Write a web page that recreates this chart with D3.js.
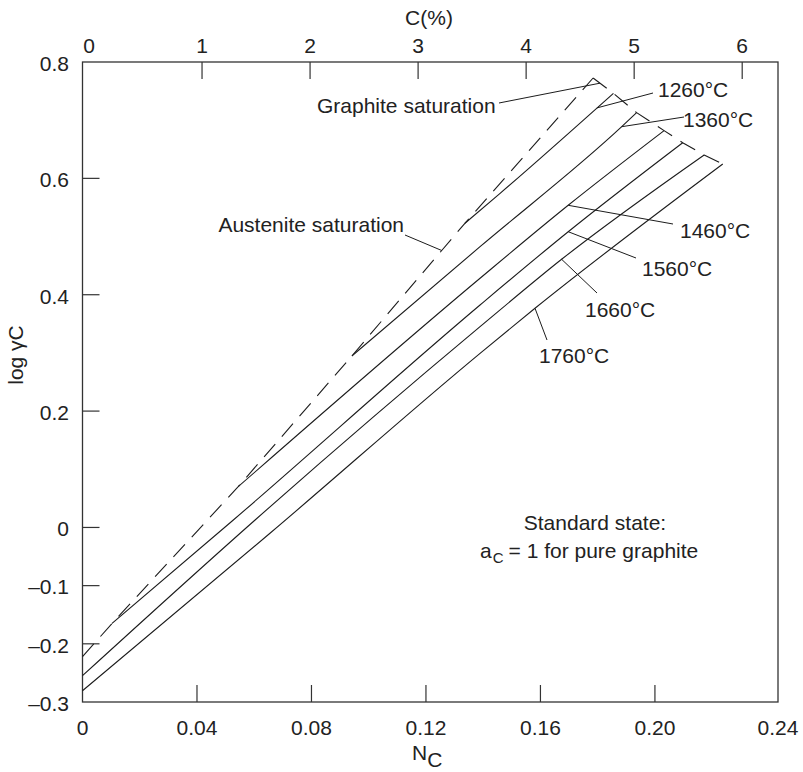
<!DOCTYPE html>
<html><head><meta charset="utf-8">
<script src="https://cdn.jsdelivr.net/npm/d3@7"></script>
<style>
body{margin:0;background:#fff}
svg{display:block}
text{font-family:"Liberation Sans",Arial,Helvetica,sans-serif;fill:#222;font-size:21px}
</style>
</head><body>
<svg id="c" width="803" height="772"></svg>
<script>
// ---------------- data ----------------
const temps = ["1260°C", "1360°C", "1460°C", "1560°C", "1660°C", "1760°C"];
const nc1260 = [0.1336, 0.1459, 0.1855];
const lg1260 = [0.5228, 0.5743, 0.7462];
const nc1360 = [0.0941, 0.1389, 0.1884, 0.1936];
const lg1360 = [0.2947, 0.4826, 0.6888, 0.7129];
const nc1460 = [0.0544, 0.1389, 0.1697, 0.2032];
const lg1460 = [0.0701, 0.4283, 0.5537, 0.6820];
const nc1560 = [0.0103, 0.0527, 0.1389, 0.1697, 0.2097];
const lg1560 = [-0.1651, 0.0128, 0.3824, 0.5083, 0.6613];
const nc1660 = [0, 0.0603, 0.1389, 0.1674, 0.2172];
const lg1660 = [-0.2548, 0.0128, 0.3451, 0.4609, 0.6402];
const nc1760 = [0, 0.0655, 0.1389, 0.1581, 0.2237];
const lg1760 = [-0.2806, -0.0100, 0.2993, 0.3767, 0.6247];
const ncAustenite = [0, 0.0103, 0.0544, 0.0941, 0.1336, 0.1784];
const lgAustenite = [-0.2221, -0.1651, 0.0701, 0.2947, 0.5228, 0.7725];
const ncGraphite = [0.1784, 0.1855, 0.1936, 0.2032, 0.2097, 0.2172, 0.2237];
const lgGraphite = [0.7725, 0.7462, 0.7129, 0.6820, 0.6613, 0.6402, 0.6247];
// where each temperature label's leader touches its curve (N_C)
const tempLeaderNC = [0.1797, 0.1884, 0.1697, 0.1697, 0.1674, 0.1581];
const graphiteLeaderNC = 0.1808;
const austeniteLeaderNC = 0.1255;

// ticks
const xTickValues = [0, 0.04, 0.08, 0.12, 0.16, 0.20, 0.24];
const xTickLabels = ["0", "0.04", "0.08", "0.12", "0.16", "0.20", "0.24"];
const yTickValues = [0.8, 0.6, 0.4, 0.2, 0, -0.1, -0.2, -0.3];
const yTickLabels = ["0.8", "0.6", "0.4", "0.2", "0", "–0.1", "–0.2", "–0.3"];
const cTickValues = [0, 1, 2, 3, 4, 5, 6];
const cTickLabels = ["0", "1", "2", "3", "4", "5", "6"];

// ---------------- layout ----------------
const NC_FRAME_MAX = 0.243;
const x = d3.scaleLinear().domain([0, NC_FRAME_MAX]).range([82.5, 778]);
const y = d3.scaleLinear().domain([-0.3, 0.8]).range([702, 62]);
const cScale = d3.scaleLinear().domain([0, 6]).range([94, 742.2]);
const TICK = 17;

const svg = d3.select("#c");
const ink = "#1c1c1c";

// frame
svg.append("rect")
  .attr("x", x(0)).attr("y", y(0.8))
  .attr("width", x(NC_FRAME_MAX) - x(0)).attr("height", y(-0.3) - y(0.8))
  .attr("fill", "none").attr("stroke", "#333").attr("stroke-width", 1.3);

// bottom axis ticks + labels
const xt = svg.append("g");
xt.selectAll("line").data(xTickValues.filter(v => v > 0 && v < 0.23)).join("line")
  .attr("x1", d => x(d)).attr("x2", d => x(d))
  .attr("y1", y(-0.3)).attr("y2", y(-0.3) - TICK)
  .attr("stroke", "#333").attr("stroke-width", 1.2);
xt.selectAll("text").data(xTickValues).join("text")
  .attr("x", (d, i) => i === xTickValues.length - 1 ? x(NC_FRAME_MAX) : x(d))
  .attr("y", 735).attr("text-anchor", "middle")
  .text((d, i) => xTickLabels[i]);

// top axis (C %)
const ct = svg.append("g");
ct.selectAll("line").data(cTickValues.filter(v => v > 0)).join("line")
  .attr("x1", d => cScale(d)).attr("x2", d => cScale(d))
  .attr("y1", y(0.8)).attr("y2", y(0.8) + TICK)
  .attr("stroke", "#333").attr("stroke-width", 1.2);
ct.selectAll("text").data(cTickValues).join("text")
  .attr("x", d => cScale(d) - (d === 0 ? 5 : 0)).attr("y", 53).attr("text-anchor", "middle")
  .text((d, i) => cTickLabels[i]);

// left axis
const yt = svg.append("g");
yt.selectAll("line").data(yTickValues.filter(v => v < 0.75 && v > -0.25)).join("line")
  .attr("x1", x(0)).attr("x2", x(0) + TICK)
  .attr("y1", d => y(d)).attr("y2", d => y(d))
  .attr("stroke", "#333").attr("stroke-width", 1.2);
yt.selectAll("text").data(yTickValues).join("text")
  .attr("x", 69).attr("y", d => y(d)).attr("dy", "0.42em").attr("text-anchor", "end")
  .text((d, i) => yTickLabels[i]);

// axis titles
svg.append("text").attr("x", 429).attr("y", 25).attr("text-anchor", "middle").text("C(%)");
const nt = svg.append("text").attr("x", 412).attr("y", 760);
nt.append("tspan").text("N");
nt.append("tspan").attr("dy", 7).text("C");
svg.append("text").attr("transform", "translate(23,355) rotate(-90)")
  .attr("text-anchor", "middle").text("log γC");

// ---------------- curves ----------------
const line = d3.line().x(d => x(d[0])).y(d => y(d[1]));
const smooth = d3.line().x(d => x(d[0])).y(d => y(d[1])).curve(d3.curveMonotoneX);
const zip = (a, b) => a.map((v, i) => [v, b[i]]);

const curves = [
  [nc1260, lg1260], [nc1360, lg1360], [nc1460, lg1460],
  [nc1560, lg1560], [nc1660, lg1660], [nc1760, lg1760]
];
svg.append("g").selectAll("path").data(curves).join("path")
  .attr("d", d => smooth(zip(d[0], d[1])))
  .attr("fill", "none").attr("stroke", ink).attr("stroke-width", 1.1);

svg.append("path").attr("d", line(zip(ncAustenite, lgAustenite)))
  .attr("fill", "none").attr("stroke", ink).attr("stroke-width", 1.1)
  .attr("stroke-dasharray", "17,10");
svg.append("path").attr("d", line(zip(ncGraphite, lgGraphite)))
  .attr("fill", "none").attr("stroke", ink).attr("stroke-width", 1.1)
  .attr("stroke-dasharray", "17,10");

// ---------------- labels & leaders ----------------
const interp = (xs, ys) => d3.scaleLinear().domain(xs).range(ys);
const tempLabelPos = [
  {tx: 658, ty: 97, lx: 653, ly: 93},
  {tx: 683, ty: 127, lx: 684, ly: 117},
  {tx: 680, ty: 238, lx: 673, ly: 224},
  {tx: 642, ty: 276, lx: 636, ly: 258},
  {tx: 585, ty: 317, lx: 597, ly: 293},
  {tx: 539, ty: 363, lx: 547, ly: 340}
];
const ann = svg.append("g");
curves.forEach((c, i) => {
  const nc = tempLeaderNC[i];
  const lg = interp(c[0], c[1])(nc);
  const p = tempLabelPos[i];
  ann.append("line").attr("x1", x(nc)).attr("y1", y(lg)).attr("x2", p.lx).attr("y2", p.ly)
    .attr("stroke", ink).attr("stroke-width", 1);
  ann.append("text").attr("x", p.tx).attr("y", p.ty).text(temps[i]);
});

const gLg = interp(ncGraphite, lgGraphite)(graphiteLeaderNC);
ann.append("line").attr("x1", x(graphiteLeaderNC)).attr("y1", y(gLg)).attr("x2", 499).attr("y2", 103)
  .attr("stroke", ink).attr("stroke-width", 1);
ann.append("text").attr("x", 317).attr("y", 113).text("Graphite saturation");

const aLg = interp(ncAustenite, lgAustenite)(austeniteLeaderNC);
ann.append("line").attr("x1", x(austeniteLeaderNC)).attr("y1", y(aLg)).attr("x2", 405).attr("y2", 235)
  .attr("stroke", ink).attr("stroke-width", 1);
ann.append("text").attr("x", 404).attr("y", 232).attr("text-anchor", "end").text("Austenite saturation");

// standard state note
svg.append("text").attr("x", 595).attr("y", 530).attr("text-anchor", "middle").text("Standard state:");
const ss = svg.append("text").attr("x", 480).attr("y", 558);
ss.append("tspan").text("a");
ss.append("tspan").attr("dy", 5).attr("dx", 1).style("font-size", "15px").text("C");
ss.append("tspan").attr("dy", -5).attr("dx", 5).text("= 1 for pure graphite");
</script>
</body></html>
